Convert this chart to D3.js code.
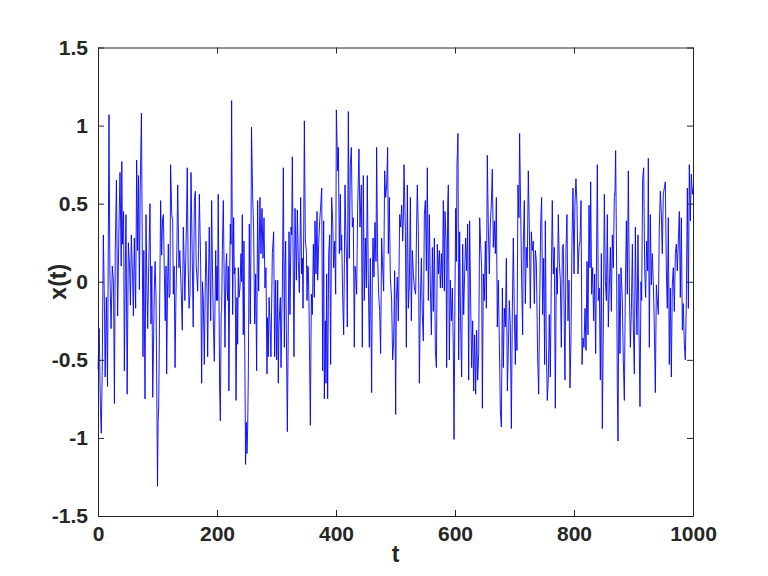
<!DOCTYPE html>
<html>
<head>
<meta charset="utf-8">
<script src="https://cdn.jsdelivr.net/npm/d3@7/dist/d3.min.js"></script>
<style>
html,body{margin:0;padding:0;background:#fff;}
svg{display:block;}
</style>
</head>
<body>
<svg id="chart" width="768" height="576"></svg>
<script>
const T = [
0,2,4,5.5,7,9,11,12,14,16,18.5,20,22,24,26,27.6,29,31,33,35,37,39,40,41,43,44.3,46,47,49,51,53,54.5,56,58,59.5,61,63.3,65,66.5,68,69.5,71,73,75.6,77,79,80.7,82,83.5,85,87.4,89,90.5,92,94.7,96,97.5,98.6,
100,101,102,103.5,105.3,107,108.5,110,111.5,113,114.3,115.4,117,118.2,119.5,121,122,124,125.5,126.6,128,129.5,131,132.5,134,136,137.5,139.5,141.7,143.4,145,146,147.5,149,150,151.5,153,154.6,156.3,158.5,160,162,163.6,165,166,167.5,169,170.3,172.5,174.2,175.5,177,178.7,180,181.5,183,184.3,186,187,189.4,191,192.5,194,195.5,197.8,199,
200,201,202,203,204.4,205.6,207,207.8,209,210.6,212,213.4,215,216.2,217,218,219,220,221.5,222.4,223.5,224.6,226.3,228,229,230.2,231,232,233.5,234.7,235.8,237,238.6,240.3,241.5,242.5,244.2,245.3,247,248,249.3,250.4,251.5,252.6,254.3,256,257,258,259.9,261.6,263.3,265,266.6,268.3,270,272.2,273.9,275.6,277.3,279,280.6,282.3,284,285,286.2,287.5,289,290.7,293,295.2,296.9,298.6,
300.3,302,303,304,305.3,306.5,307.6,309,309.8,311.5,313.2,314.3,315.4,316.5,318.2,320,321,322.7,324.4,325.5,326.6,328.3,329.4,331.1,332,333.4,335,336.7,338.4,340.6,342.3,343.5,344.6,345.7,346.8,348.5,350.2,351.3,352.5,353.5,354.8,355.8,356.9,358.6,360.2,362,363.6,364.7,366.4,368.1,369.2,370.9,372.6,374.3,376,377.6,379.3,380.4,382.1,383.2,384.3,386,387.7,389.4,391,392.7,394.4,396.1,397.8,399.5,
400.6,402.8,404,405.6,407.3,408.5,409.5,411.2,412.9,414,415.1,416.8,418,419,420.7,422.4,424.1,425.8,427.4,429.1,430.8,432,433,434.7,436.4,438.6,440.3,442.6,444.2,445.9,447.6,449.3,451,452.6,454.3,456,457.7,459.9,461,462.2,463.8,465.5,467.2,468.3,470,471.7,473.4,475,476.7,478.4,480.1,481.8,483.5,485.1,486.8,487.9,489.6,491.3,493.5,495.2,496.9,498.6,
500.3,501.4,503,504.8,506,507,508.7,510.4,512.1,513.2,514.3,516.6,518.2,519.9,521.6,523.3,525,526.6,528.3,530,531.7,533.9,535.6,536.7,538.4,540.1,541.8,543.5,545.1,546.8,548.5,550.2,551.9,553.5,555.2,556.9,558.6,560.3,562,563.6,565.3,567,568.7,570.3,572,573.7,575.4,577.1,578.8,580.4,582.1,583.2,584.9,586,587.7,588.8,590.5,592.2,593.9,595.6,597.2,598.4,
600,601.2,602.3,603.4,605,606.2,607.8,609.5,611.2,612.9,614.6,616.2,617.9,619.6,621.3,623,624.6,626.3,628,629.7,631.4,633,634.7,636.4,638.1,639.8,641.5,643.1,644.8,646,647.6,649.3,651,652.7,654.3,656,657.7,659.4,661,662.7,664.4,666.1,667.8,669.5,671.1,672.8,674.5,676.2,677.9,679.6,681.2,682.9,684.6,686.3,688,689.6,691.3,693,694.7,696.4,698,699.7,
701.4,702.5,704.2,705.8,707.5,708.6,710.3,712,713.7,714.8,716.5,718.2,719.8,721.5,723.2,724.9,726.6,728.3,729.9,731.6,733.3,735,736.7,738.9,740.6,742.3,744,745.6,747.3,749,750.7,751.8,753.5,755.1,756.8,758.5,760.2,761.9,763.5,765.2,766.9,768.6,770.3,772,773.6,775.3,777,778.7,780.4,782,783.7,784.8,786.5,788.2,789.9,791.6,793.2,794.9,796.6,798.3,
800,801.6,803.3,805,806.7,808.4,810.1,811.8,813.5,815.1,816.8,818.5,820.2,821.9,823.5,825.2,826.9,828,829.7,831.4,833,834.7,836.4,838.1,839.2,840.9,842.6,844.3,846,847.6,849.3,851,852.7,854.4,856,857.7,859.4,861.1,862.8,864.4,866.1,867.8,868.9,870,871.7,872.8,874,875.6,877.3,879,881.2,882.9,884.6,886.3,888,889.6,891.3,893,894.7,896.4,898.1,899.7,
901.4,903.1,904.2,905.9,907.5,909.2,910.9,912.6,913.7,915.4,917.1,918.8,920.4,922.1,923.8,924.9,926.6,928.3,930,931.6,933.3,935,936.7,938.4,940,941.7,943.4,945.1,946.8,948.4,950.1,951.8,953.5,955.2,956.8,958.5,960.2,961.9,963.6,965.2,966.9,968.6,970.3,972,973.6,975.3,977,978.7,980.4,982.1,983.7,985.4,987.1,988.8,990.5,992.2,993.8,995.5,997.2,998.9,1000
];
const X = [
-0.56,-0.30,-0.80,-0.97,-0.60,0.30,-0.20,-0.61,-0.10,-0.67,1.07,0.05,-0.30,0.10,0.00,-0.78,0.20,0.65,-0.22,0.30,0.70,0.10,0.77,0.24,0.45,-0.57,0.10,0.43,-0.72,0.25,0.10,-0.15,0.30,0.05,-0.22,0.28,-0.17,0.78,0.20,0.68,-0.05,0.60,1.08,-0.48,0.20,-0.75,0.43,0.00,-0.30,0.05,0.50,-0.27,0.10,-0.74,-0.04,0.13,-0.10,-0.59,
-1.31,-0.90,-0.80,-0.20,0.52,0.17,0.40,0.43,0.05,-0.25,0.10,-0.59,0.00,0.24,-0.10,-0.08,0.75,0.43,0.39,-0.08,0.10,-0.55,-0.10,0.20,0.62,0.09,0.20,-0.02,-0.31,0.35,0.10,-0.12,0.15,0.45,0.73,0.10,-0.17,-0.08,0.70,0.13,-0.29,0.52,0.58,0.10,0.05,-0.06,0.20,0.56,0.13,-0.65,0.00,-0.12,-0.53,-0.10,0.26,0.00,-0.48,0.10,0.35,-0.25,0.52,0.05,-0.29,-0.51,0.20,-0.12,
0.10,-0.12,0.56,0.10,-0.68,-0.89,-0.20,-0.19,0.20,0.52,0.05,-0.42,0.10,0.18,-0.05,-0.12,0.10,-0.70,0.10,0.37,0.24,1.16,-0.21,0.41,0.05,0.09,-0.20,-0.76,-0.10,-0.40,0.09,-0.10,-0.04,0.18,0.00,0.43,-0.34,0.26,-0.59,-1.17,-0.90,-1.10,-0.95,-0.61,0.37,-0.27,0.20,0.99,0.56,0.32,-0.27,0.05,-0.57,0.52,-0.06,0.54,0.18,0.47,0.15,0.41,-0.04,0.09,-0.59,-0.23,-0.48,-0.10,-0.25,-0.48,0.18,0.32,-0.48,0.01,
-0.50,0.01,-0.65,-0.30,-0.19,-0.10,-0.55,-0.20,-0.06,0.73,-0.42,0.10,0.26,-0.30,-0.96,-0.20,0.32,-0.21,0.35,0.30,0.80,0.01,-0.48,0.47,0.30,0.01,0.46,0.13,-0.07,0.54,0.05,0.15,-0.17,0.30,1.03,0.26,0.20,-0.12,0.10,0.09,-0.20,-0.55,-0.92,-0.08,-0.21,0.24,-0.10,0.39,0.05,0.45,0.01,0.24,0.39,0.49,0.60,-0.57,0.39,-0.75,-0.25,-0.65,0.05,-0.75,0.18,0.30,-0.53,0.54,0.39,0.09,0.26,-0.08,
1.10,0.71,0.86,0.18,0.56,0.20,0.30,-0.10,-0.34,0.10,0.62,0.26,0.10,-0.29,1.09,0.15,0.75,0.86,0.35,0.41,-0.42,0.10,0.05,-0.08,0.47,0.85,0.35,0.62,-0.42,0.68,-0.12,0.28,-0.04,0.68,0.01,-0.42,0.15,-0.71,0.00,0.28,0.03,0.38,0.13,0.86,0.15,-0.08,-0.19,-0.46,0.28,0.09,-0.06,0.71,0.54,0.62,0.86,0.18,0.54,0.03,-0.12,-0.50,-0.38,0.07,
-0.85,-0.12,0.03,-0.25,0.10,0.43,0.35,0.49,0.26,0.40,0.75,0.32,-0.42,0.62,-0.17,-0.02,0.54,-0.25,0.20,0.05,-0.04,-0.08,0.39,0.62,0.32,-0.65,-0.12,0.15,-0.21,-0.38,0.43,0.52,0.07,0.73,-0.12,0.43,-0.04,-0.34,0.22,-0.19,0.28,-0.44,-0.55,0.24,0.05,0.20,-0.04,0.18,-0.04,0.52,-0.06,0.45,0.26,-0.55,0.49,0.62,-0.50,0.01,-0.25,-0.04,-0.44,-1.01,
-0.04,0.47,0.13,0.75,0.95,-0.50,0.32,-0.29,-0.61,0.24,-0.21,0.05,0.28,0.07,0.37,-0.63,0.39,-0.12,-0.55,-0.25,-0.70,-0.34,-0.72,-0.31,-0.63,-0.46,0.41,0.24,0.09,-0.81,0.05,-0.12,0.26,-0.17,0.81,0.35,0.05,0.37,0.49,0.72,0.22,0.39,0.18,0.54,-0.29,0.01,-0.38,-0.82,-0.93,-0.04,-0.55,-0.17,-0.29,0.15,-0.70,-0.44,-0.12,-0.29,-0.94,-0.17,0.28,-0.21,
-0.53,-0.21,-0.44,0.62,0.41,0.95,0.47,0.01,-0.34,0.24,0.52,-0.14,0.22,0.09,0.71,0.35,-0.17,0.32,0.20,0.26,-0.14,0.20,0.13,-0.48,-0.72,-0.14,0.37,0.54,-0.21,0.15,-0.53,0.39,-0.42,-0.76,-0.63,-0.21,-0.61,0.03,0.52,0.05,0.22,-0.81,0.09,-0.08,0.43,0.13,0.01,-0.42,0.22,0.24,-0.29,-0.63,0.20,0.43,-0.25,0.01,-0.68,-0.38,0.26,0.60,
0.05,0.49,0.66,0.49,0.05,0.22,0.26,0.52,-0.53,-0.36,-0.42,-0.17,-0.44,0.13,-0.34,0.49,0.09,0.64,-0.08,0.09,-0.25,0.05,-0.46,0.24,0.75,-0.12,-0.04,-0.63,0.18,-0.94,-0.29,0.56,0.01,-0.12,0.43,-0.29,-0.04,0.22,-0.19,0.30,0.09,0.54,0.58,0.84,0.07,-0.68,-1.02,0.05,-0.46,0.09,-0.12,-0.50,-0.76,-0.04,0.39,-0.08,0.71,-0.04,-0.42,-0.19,0.24,-0.29,
-0.59,0.35,-0.02,-0.34,0.30,-0.29,-0.80,0.00,-0.12,0.66,0.73,0.09,-0.10,0.26,0.07,0.79,-0.42,0.43,-0.02,0.18,0.00,-0.29,-0.71,-0.02,-0.12,-0.21,0.35,0.58,0.43,0.18,0.56,0.60,0.64,0.07,-0.17,0.41,-0.53,-0.04,-0.61,-0.02,0.09,-0.19,0.18,0.24,0.07,0.26,0.45,-0.10,0.41,-0.31,-0.14,-0.40,-0.50,-0.12,0.60,-0.17,0.75,0.39,0.69,0.56,0.60
];
const xTickValues = [0, 200, 400, 600, 800, 1000];
const yTickValues = [-1.5, -1, -0.5, 0, 0.5, 1, 1.5];
const xLabel = "t";
const yLabel = "x(t)";

const svg = d3.select("#chart");
const mLeft = 98, mRight = 693, mTop = 47.5, mBottom = 516;
const xScale = d3.scaleLinear().domain([0, 1000]).range([mLeft, mRight]);
const yScale = d3.scaleLinear().domain([-1.5, 1.5]).range([mBottom, mTop]);

const axisColor = "#262626";
const fontFam = "'Liberation Sans', Arial, Helvetica, sans-serif";

const nPts = Math.min(T.length, X.length);
const pts = d3.range(nPts).map(i => [T[i], X[i]]);

const line = d3.line().x(d => xScale(d[0])).y(d => yScale(d[1]));
svg.append("path")
  .datum(pts)
  .attr("d", line)
  .attr("fill", "none")
  .attr("stroke", "#0000ff")
  .attr("stroke-width", 0.9)
  .attr("stroke-linejoin", "miter");

const fmt = d => String(d);

function styleAxis(g, showLabels) {
  g.select(".domain").attr("stroke", axisColor).attr("stroke-width", 1);
  g.selectAll(".tick line").attr("stroke", axisColor).attr("stroke-width", 1);
  g.selectAll(".tick text")
    .attr("fill", axisColor)
    .style("font-family", fontFam)
    .style("font-weight", "bold")
    .style("font-size", "21px");
  if (!showLabels) g.selectAll(".tick text").remove();
}

const gB = svg.append("g").attr("transform", `translate(0,${mBottom})`)
  .call(d3.axisBottom(xScale).tickValues(xTickValues).tickFormat(fmt).tickSizeInner(-6).tickSizeOuter(0).tickPadding(10));
styleAxis(gB, true);
const gT = svg.append("g").attr("transform", `translate(0,${mTop})`)
  .call(d3.axisTop(xScale).tickValues(xTickValues).tickSizeInner(-6).tickSizeOuter(0));
styleAxis(gT, false);
const gL = svg.append("g").attr("transform", `translate(${mLeft},0)`)
  .call(d3.axisLeft(yScale).tickValues(yTickValues).tickFormat(fmt).tickSizeInner(-6).tickSizeOuter(0).tickPadding(10));
styleAxis(gL, true);
const gR = svg.append("g").attr("transform", `translate(${mRight},0)`)
  .call(d3.axisRight(yScale).tickValues(yTickValues).tickSizeInner(-6).tickSizeOuter(0));
styleAxis(gR, false);

svg.append("text")
  .attr("x", (mLeft + mRight) / 2)
  .attr("y", 562)
  .attr("text-anchor", "middle")
  .attr("fill", axisColor)
  .style("font-family", fontFam)
  .style("font-weight", "bold")
  .style("font-size", "23px")
  .text(xLabel);

svg.append("text")
  .attr("transform", `translate(66,${(mTop + mBottom) / 2}) rotate(-90)`)
  .attr("text-anchor", "middle")
  .attr("fill", axisColor)
  .style("font-family", fontFam)
  .style("font-weight", "bold")
  .style("font-size", "23px")
  .text(yLabel);
</script>
</body>
</html>
